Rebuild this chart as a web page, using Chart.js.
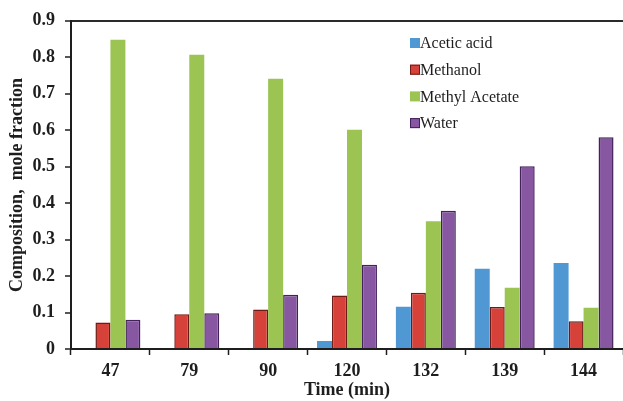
<!DOCTYPE html>
<html>
<head>
<meta charset="utf-8">
<script src="https://cdn.jsdelivr.net/npm/chart.js@4/dist/chart.umd.min.js"></script>
<style>
  html, body { margin: 0; padding: 0; background: #fff; }
  #wrap { width: 623px; height: 401px; position: relative; }
</style>
</head>
<body>
<div id="wrap"><canvas id="c"></canvas></div>
<script>
// Sampling times (min)
const times = ['47', '79', '90', '120', '132', '139', '144'];

// Composition of each component, mole fraction
const aceticAcid    = [0, 0, 0, 0.022, 0.116, 0.220, 0.236];
const methanol      = [0.073, 0.095, 0.108, 0.147, 0.154, 0.115, 0.076];
const methylAcetate = [0.848, 0.807, 0.741, 0.601, 0.350, 0.168, 0.113];
const water         = [0.080, 0.098, 0.149, 0.231, 0.379, 0.501, 0.581];

const yTicks = [0, 0.1, 0.2, 0.3, 0.4, 0.5, 0.6, 0.7, 0.8, 0.9];

const ink = '#1e1e1e';
const serif = "'Liberation Serif', 'Times New Roman', serif";

// Legend drawn inside the plot area, upper middle
const innerLegend = {
  id: 'innerLegend',
  afterDatasetsDraw(chart) {
    const ctx = chart.ctx;
    const x0 = 410, y0 = 43, step = 26.7, box = 10;
    ctx.save();
    ctx.font = '16px ' + serif;
    ctx.textBaseline = 'middle';
    ctx.textAlign = 'left';
    chart.data.datasets.forEach((ds, i) => {
      const y = y0 + i * step;
      ctx.fillStyle = ds.backgroundColor;
      ctx.fillRect(x0, y - box / 2, box, box);
      if (ds.borderWidth) {
        ctx.strokeStyle = ds.borderColor;
        ctx.lineWidth = 1;
        ctx.strokeRect(x0 + 0.5, y - box / 2 + 0.5, box - 1, box - 1);
      }
      ctx.fillStyle = ink;
      ctx.fillText(ds.label, x0 + box, y + 1);
    });
    ctx.restore();
  }
};

new Chart(document.getElementById('c'), {
  type: 'bar',
  data: {
    labels: times,
    datasets: [
      { label: 'Acetic acid', data: aceticAcid, backgroundColor: '#4f98d4', borderWidth: 0 },
      { label: 'Methanol', data: methanol, backgroundColor: '#d6413a', borderColor: '#6e1a15', borderWidth: 1.5 },
      { label: 'Methyl Acetate', data: methylAcetate, backgroundColor: '#9bc453', borderWidth: 0 },
      { label: 'Water', data: water, backgroundColor: '#8758a1', borderColor: '#43215a', borderWidth: 1.5 }
    ]
  },
  options: {
    responsive: true,
    maintainAspectRatio: false,
    animation: false,
    layout: { padding: { top: 20, right: 0, left: 0, bottom: 0 } },
    datasets: { bar: { categoryPercentage: 0.76, barPercentage: 1.0 } },
    plugins: {
      legend: { display: false },
      tooltip: { enabled: false }
    },
    scales: {
      x: {
        offset: true,
        afterFit(s) { s.height = 52; },
        grid: { display: true, offset: true, drawOnChartArea: false, tickLength: 6, tickColor: ink, tickWidth: 1.5 },
        border: { display: true, color: ink, width: 2 },
        ticks: { color: ink, font: { family: serif, size: 18, weight: 'bold' }, padding: 6, maxRotation: 0 },
        title: { display: true, text: 'Time (min)', color: ink, font: { family: serif, size: 18, weight: 'bold' }, padding: { top: 0, bottom: 0 } }
      },
      y: {
        min: 0,
        max: 0.9,
        afterFit(s) { s.width = 71; },
        afterBuildTicks(s) { s.ticks = yTicks.map(v => ({ value: v })); },
        grid: {
          display: true,
          drawOnChartArea: true,
          tickLength: 6,
          tickColor: ink,
          tickWidth: 1.5,
          lineWidth: 2,
          color: c => (c.tick && c.tick.value === 0.9 ? '#2a2a2a' : 'rgba(0,0,0,0)')
        },
        border: { display: true, color: ink, width: 2 },
        ticks: {
          color: ink,
          font: { family: serif, size: 18, weight: 'bold' },
          padding: 10,
          callback: v => (v === 0 ? '0' : v.toFixed(1))
        },
        title: { display: true, text: 'Composition,  mole fraction', color: ink, font: { family: serif, size: 18, weight: 'bold' }, padding: { top: 7, bottom: 0 } }
      }
    }
  },
  plugins: [innerLegend]
});
</script>
</body>
</html>
